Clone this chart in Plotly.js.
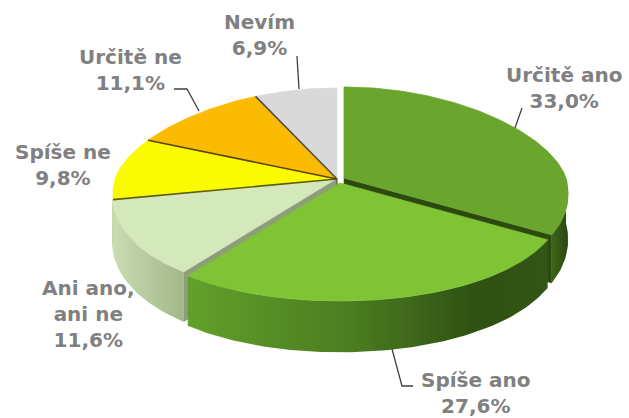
<!DOCTYPE html>
<html><head><meta charset="utf-8">
<script src="https://cdn.plot.ly/plotly-3.0.1.min.js"></script>
<style>html,body{margin:0;padding:0;background:#fff;}#chart{width:629px;height:418px;}</style>
</head><body><div id="chart"></div>
<script>
// ---- data ----
const categories = ['Určitě ano', 'Spíše ano', 'Ani ano, ani ne', 'Spíše ne', 'Určitě ne', 'Nevím'];
const values = [33.0, 27.6, 11.6, 9.8, 11.1, 6.9];
const labelNames = ['Určitě ano', 'Spíše ano', 'Ani ano,<br>ani ne', 'Spíše ne', 'Určitě ne', 'Nevím'];

// ---- layout / style ----
const GEO = {cx: 337, cy: 179, rx: 222, ryBack: 91, ryFront: 118, depth: 45, persp: 0.14, wallMax: 261};
const offsets = [[7, -1], [3, 4], [-1, 0], [0, 0], [0, 0], [0, 0]];
const topColors = ['#6aa62e', '#80c334', '#d3e8bb', '#fafa00', '#fbbb00', '#d9d9d9'];
const wallScales = [
  [[0, '#3f6619'], [1, '#2a4610']],
  [[0, '#62a02b'], [0.45, '#4b7d20'], [0.8, '#2f5113'], [1, '#325615']],
  [[0, '#cadcb3'], [1, '#a3b88a']],
  [[0, '#c8c800'], [1, '#a0a000']],
  [[0, '#c89400'], [1, '#a07600']],
  [[0, '#b0b0b0'], [1, '#909090']]
];
const faceColors = ['#2c4a10', '#3d6a18', '#8e9d7c', '#6b6b10', '#6a5000', '#555555'];
const edgeColors = ['#ffffff', '#ffffff', '#8e9d7c', '#5e5e10', '#5a4600', '#505050'];
const labelPos = [[564, 88], [475, 393], [88, 314], [63, 165], [130, 70], [259, 35]];
const leaderPaths = [
  [[522, 108], [515, 128]],
  [[392, 349], [402, 386], [413, 386]],
  null,
  null,
  [[174, 89], [187, 89], [199, 111]],
  [[297, 56], [299, 89]]
];

function proj(theta, off, down) {
  const t = theta * Math.PI / 180;
  const s = Math.sin(t), c = Math.cos(t);
  const f = 1 + GEO.persp * (-c);
  const ry = c > 0 ? GEO.ryBack : GEO.ryFront;
  return [GEO.cx + off[0] + GEO.rx * s * f,
          GEO.cy + off[1] - ry * c + (down ? GEO.depth * f : 0)];
}
function arc(a, b, off, down) {
  const pts = [];
  const n = Math.max(2, Math.ceil(Math.abs(b - a)));
  for (let k = 0; k <= n; k++) pts.push(proj(a + (b - a) * k / n, off, down));
  return pts;
}
function poly(pts, extra) {
  return Object.assign({
    type: 'scatter', mode: 'lines', x: pts.map(p => p[0]), y: pts.map(p => p[1]),
    fill: 'toself', hoverinfo: 'skip', showlegend: false
  }, extra);
}

const total = values.reduce((a, b) => a + b, 0);
const starts = [], ends = [];
let acc = 0;
values.forEach(v => { starts.push(acc / total * 360); acc += v; ends.push(acc / total * 360); });

const faces = [], walls = [], tops = [], edges = [], leaders = [];
values.forEach((v, i) => {
  const off = offsets[i], t0 = starts[i], t1 = ends[i];
  const C = [GEO.cx + off[0], GEO.cy + off[1]];
  const Cd = [C[0], C[1] + GEO.depth];
  // radial cut faces (only those turned toward the viewer)
  [[t0, Math.sin(t0 * Math.PI / 180) < -1e-6], [t1, Math.sin(t1 * Math.PI / 180) > 1e-6]].forEach(([t, vis]) => {
    if (!vis) return;
    const rim = proj(t, off, false);
    const pts = [C, rim, proj(t, off, true), Cd, C];
    faces.push({key: rim[1], tr: poly(pts, {fillcolor: faceColors[i], line: {width: 0.6, color: faceColors[i]}})});
  });
  // outer wall
  const a = Math.max(t0, 90), b = Math.min(t1, GEO.wallMax);
  if (a < b) {
    const pts = arc(a, b, off, false).concat(arc(b, a, off, true));
    pts.push(pts[0]);
    walls.push(poly(pts, {fillcolor: wallScales[i][0][1], line: {width: 0},
      fillgradient: {type: 'horizontal', colorscale: wallScales[i]}}));
  }
  // top face
  const tp = [C].concat(arc(t0, t1, off, false)); tp.push(C);
  tops.push(poly(tp, {fillcolor: topColors[i], line: {width: 0.8, color: topColors[i]}}));
  // separating edge at slice start (back slices)
  if (i >= 3) {
    const e = [C, proj(t0, off, false)];
    edges.push({type: 'scatter', mode: 'lines', x: e.map(p => p[0]), y: e.map(p => p[1]),
      line: {color: edgeColors[i], width: 1.6}, hoverinfo: 'skip', showlegend: false});
  }
  if (leaderPaths[i]) {
    leaders.push({type: 'scatter', mode: 'lines', x: leaderPaths[i].map(p => p[0]), y: leaderPaths[i].map(p => p[1]),
      line: {color: '#404040', width: 1.3}, hoverinfo: 'skip', showlegend: false});
  }
});
faces.sort((p, q) => p.key - q.key);

const annotations = values.map((v, i) => ({
  x: labelPos[i][0], y: labelPos[i][1], xref: 'x', yref: 'y',
  text: labelNames[i] + '<br>' + v.toFixed(1).replace('.', ',') + '%',
  showarrow: false, xanchor: 'center', yanchor: 'middle', align: 'center',
  font: {family: 'DejaVu Sans, Verdana, sans-serif', size: 20, color: '#808080', weight: 'bold'}
}));

const layout = {
  width: 629, height: 418, margin: {l: 0, r: 0, t: 0, b: 0},
  paper_bgcolor: '#ffffff', plot_bgcolor: '#ffffff',
  xaxis: {range: [0, 629], visible: false, fixedrange: true},
  yaxis: {range: [418, 0], visible: false, fixedrange: true},
  annotations: annotations, showlegend: false
};
Plotly.newPlot('chart', faces.map(f => f.tr).concat(walls, tops, edges, leaders), layout, {staticPlot: true});
</script></body></html>
